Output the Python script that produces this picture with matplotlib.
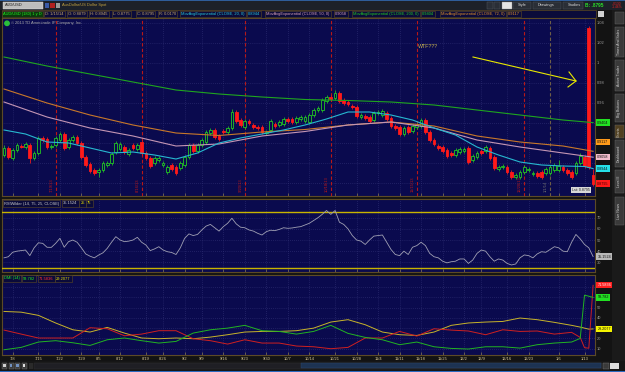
import numpy as np
import matplotlib
matplotlib.use("Agg")
import matplotlib.pyplot as plt
from matplotlib.patches import Rectangle
from matplotlib.transforms import offset_copy

plt.rcParams['font.family'] = ['Liberation Sans', 'DejaVu Sans']

# ---------------- data ----------------
opens = [0.908,0.915,0.905,0.913,0.917,0.916,0.918,0.905,0.910,0.925,
         0.924,0.916,0.918,0.923,0.929,0.916,0.923,0.926,0.920,0.906,
         0.899,0.893,0.891,0.893,0.898,0.900,0.911,0.914,0.916,0.909,
         0.918,0.914,0.921,0.910,0.905,0.900,0.903,0.898,0.891,0.898,
         0.896,0.895,0.898,0.906,0.918,0.912,0.918,0.921,0.930,0.933,
         0.927,0.932,0.931,0.935,0.951,0.943,0.936,0.942,0.938,0.936,
         0.936,0.930,0.933,0.939,0.938,0.939,0.944,0.944,0.941,0.944,
         0.942,0.941,0.948,0.953,0.953,0.962,0.966,0.965,0.970,0.963,
         0.961,0.957,0.956,0.946,0.947,0.946,0.943,0.950,0.948,0.950,
         0.945,0.937,0.936,0.929,0.936,0.932,0.936,0.937,0.943,0.931,
         0.923,0.917,0.916,0.913,0.910,0.908,0.911,0.912,0.915,0.903,
         0.906,0.912,0.912,0.915,0.906,0.894,0.896,0.896,0.891,0.886,
         0.886,0.891,0.893,0.889,0.890,0.891,0.890,0.890,0.893,0.893,
         0.896,0.893,0.891,0.890,0.900,0.906,1.035,0.888]
closes = [0.915,0.906,0.913,0.918,0.916,0.919,0.905,0.910,0.925,0.923,
          0.916,0.917,0.925,0.929,0.915,0.923,0.926,0.920,0.906,0.898,
          0.892,0.890,0.893,0.900,0.900,0.909,0.920,0.919,0.911,0.913,
          0.915,0.918,0.910,0.905,0.897,0.905,0.905,0.900,0.896,0.894,
          0.890,0.900,0.906,0.918,0.912,0.918,0.923,0.931,0.933,0.926,
          0.924,0.931,0.935,0.951,0.942,0.938,0.942,0.940,0.936,0.935,
          0.931,0.931,0.942,0.937,0.941,0.944,0.942,0.941,0.945,0.946,
          0.946,0.948,0.953,0.955,0.963,0.966,0.964,0.970,0.962,0.960,
          0.959,0.956,0.947,0.948,0.945,0.942,0.950,0.951,0.952,0.944,
          0.937,0.935,0.929,0.935,0.931,0.937,0.938,0.943,0.931,0.923,
          0.919,0.915,0.912,0.907,0.908,0.913,0.914,0.914,0.901,0.907,
          0.910,0.910,0.916,0.905,0.895,0.896,0.897,0.891,0.886,0.888,
          0.891,0.896,0.894,0.890,0.887,0.886,0.894,0.896,0.898,0.897,
          0.893,0.890,0.886,0.900,0.907,0.897,0.896,0.8795]
highs = [0.918,0.917,0.915,0.920,0.919,0.921,0.920,0.912,0.927,0.927,
         0.926,0.919,0.927,0.931,0.931,0.925,0.928,0.928,0.922,0.908,
         0.901,0.895,0.895,0.902,0.902,0.911,0.922,0.921,0.918,0.915,
         0.920,0.920,0.923,0.912,0.907,0.907,0.907,0.902,0.898,0.900,
         0.898,0.902,0.908,0.920,0.920,0.920,0.925,0.933,0.935,0.935,
         0.929,0.934,0.937,0.954,0.953,0.945,0.944,0.944,0.940,0.938,
         0.938,0.933,0.944,0.941,0.943,0.946,0.946,0.946,0.947,0.948,
         0.948,0.950,0.955,0.957,0.965,0.968,0.968,0.973,0.972,0.965,
         0.963,0.959,0.958,0.950,0.949,0.948,0.952,0.953,0.954,0.952,
         0.947,0.939,0.938,0.937,0.938,0.939,0.940,0.945,0.945,0.933,
         0.925,0.919,0.918,0.915,0.912,0.915,0.916,0.916,0.917,0.909,
         0.912,0.914,0.918,0.917,0.908,0.898,0.899,0.898,0.893,0.890,
         0.893,0.898,0.896,0.892,0.892,0.893,0.896,0.898,0.900,0.903,
         0.898,0.895,0.893,0.902,0.910,0.908,1.037,0.8945]
lows = [0.906,0.904,0.903,0.911,0.915,0.914,0.900,0.903,0.908,0.921,
        0.914,0.914,0.916,0.921,0.913,0.914,0.921,0.918,0.904,0.896,
        0.890,0.888,0.886,0.891,0.896,0.898,0.909,0.912,0.909,0.907,
        0.913,0.912,0.908,0.903,0.895,0.898,0.901,0.896,0.889,0.892,
        0.888,0.893,0.896,0.904,0.910,0.910,0.916,0.919,0.928,0.924,
        0.922,0.929,0.929,0.933,0.940,0.936,0.934,0.938,0.934,0.933,
        0.929,0.928,0.931,0.935,0.936,0.937,0.940,0.939,0.939,0.942,
        0.940,0.939,0.946,0.951,0.951,0.960,0.962,0.963,0.960,0.958,
        0.957,0.954,0.945,0.944,0.943,0.940,0.941,0.948,0.946,0.942,
        0.935,0.933,0.927,0.927,0.929,0.930,0.934,0.935,0.929,0.921,
        0.917,0.913,0.910,0.905,0.906,0.906,0.909,0.910,0.899,0.901,
        0.904,0.908,0.910,0.903,0.893,0.892,0.894,0.889,0.884,0.884,
        0.884,0.889,0.891,0.887,0.885,0.884,0.888,0.888,0.891,0.891,
        0.891,0.888,0.884,0.888,0.898,0.895,0.894,0.8775]

ma_idx_coarse = [0, 10, 20, 30, 40, 50, 60, 70, 80, 90, 100, 110, 120, 130, 137]
ema200 = [1.006,0.997,0.989,0.981,0.973,0.969,0.966,0.9635,0.9625,0.961,0.958,0.953,0.948,0.943,0.9404]
ema72 = [0.974,0.960,0.948,0.938,0.930,0.9275,0.931,0.9335,0.938,0.941,0.937,0.927,0.921,0.917,0.9117]
ema50 = [0.961,0.946,0.935,0.927,0.917,0.919,0.927,0.9315,0.938,0.941,0.935,0.923,0.916,0.910,0.9058]
ma_idx_fine = [0,5,10,15,20,25,30,35,40,45,50,55,60,65,70,75,80,85,90,95,100,105,110,115,120,125,130,135,137]
ema20 = [0.933,0.929,0.921,0.920,0.915,0.910,0.911,0.908,0.904,0.910,0.920,0.925,0.929,0.933,0.938,
         0.944,0.951,0.951,0.948,0.943,0.935,0.928,0.916,0.908,0.901,0.898,0.897,0.8965,0.8944]

rsi = [34,35,39,40,40.5,41,36,43,47.5,47,
       43.5,43.4,47,51.5,43.5,48.5,50,48,43,37.5,
       35.5,34,36.5,38.5,42.5,48,53,50,48.5,49,
       50,52.4,48,45.5,40.5,42,44,41,39.5,38.8,
       37,43,51.5,55.5,54,55,59,62.5,64,61,
       58,62,65,69.5,64.5,61.5,61,59,58,56,
       54.5,57.5,58.8,58.4,59.5,61,60.5,60.8,61.5,62,
       63.5,65,67.5,70,73,76.5,73,76.5,66,64,
       60,54,50,49,46,50,53.5,54,54.5,48,
       41.5,37,36,40,37,43.5,45,48,45,38,
       35,34,31,29.5,30.5,31,33,33,29,32,
       38,41,40,35,31,33,32,29,27.6,28.5,
       34,36.6,36,34,37.5,39.5,39,41.5,44,43,
       40,39.5,48,55,51,46,43,35.1524]

dmi_idx = [0,4,8,12,16,20,24,28,32,36,40,44,48,52,56,60,64,68,72,76,80,84,88,92,96,100,
           104,108,112,116,120,124,128,132,134,135,136,137]
di_plus = [9.0,11.3,16.5,17.8,15.8,13.2,18.7,20.4,17.8,15.5,17.1,25.2,28.4,30.0,32.7,27.5,26.8,
           24.2,26.8,32.7,24.9,21.0,18.7,13.9,16.5,11.9,10.3,9.7,11.9,11.9,10.6,13.9,15.5,16.5,
           20.0,62.0,61.0,59.782]
di_minus = [28.1,24.2,20.4,20.4,20.4,30.4,29.4,22.6,24.2,27.5,27.5,19.7,17.8,14.5,18.7,15.5,15.5,
            12.6,11.9,10.0,11.3,20.4,20.4,26.8,22.3,29.4,28.1,27.2,23.6,28.4,26.8,27.2,24.2,25.9,
            21.0,11.0,10.5,71.5836]
adx = [46.2,45.5,42.4,35.0,28.4,26.2,30.7,25.2,20.4,19.7,20.4,19.7,21.3,23.6,26.2,26.8,26.8,
       27.5,30.0,35.9,38.2,33.3,26.2,23.6,22.9,26.2,32.7,35.0,35.9,36.5,39.8,38.2,35.6,32.7,
       31.0,30.0,29.0,29.2077]

expiry_idx = [12, 32, 56, 76, 96, 121]
expiry_labels = ['7/19/13', '8/16/13', '9/20/13', '10/18/13', '11/15/13', '12/20/13']
year_idx = 127
year_label = '1/1/14'

xtick_idx = [2,8,13,18,22,27,33,37,42,46,51,56,61,66,71,77,82,87,92,97,102,107,111,117,122,129,135]
xtick_labels = ['7/8','7/15','7/22','7/29','8/5','8/12','8/19','8/26','9/2','9/9','9/16','9/23',
                '9/30','10/7','10/14','10/21','10/28','11/4','11/11','11/18','11/25','12/2','12/9',
                '12/16','12/23','1/6','1/13']
price_ticks = [0.88, 0.90, 0.92, 0.94, 0.96, 0.98, 1.00, 1.02, 1.04]
# labels hidden under the value bubbles are left blank
price_tick_labels = ['', '', '', '', '0.96', '0.98', '1', '1.02', '1.04']
rsi_ticks = [30, 40, 50, 60, 70]
rsi_tick_labels = ['30', '40', '50', '60', '70']
dmi_ticks = [10, 20, 30, 40, 50, 60, 70]
dmi_tick_labels = ['10', '20', '', '40', '50', '', '']

# ---------------- styling ----------------
W, H = 625, 372
NAVY = '#0a0a4e'
BORDER = '#5c4a26'
GRID = '#34347a'
UP = '#22c822'
DN = '#ff1a1a'
AXTXT = '#9c9c9c'
FS = 2.9

fig = plt.figure(figsize=(6.25, 3.72), dpi=100)
fig.patch.set_facecolor('#131313')


def px_axes(x0, y0, x1, y1, z=1):
    return fig.add_axes([x0 / W, 1 - y1 / H, (x1 - x0) / W, (y1 - y0) / H], zorder=z)


bg = px_axes(0, 0, W, H, z=0)
bg.set_xlim(0, W); bg.set_ylim(H, 0); bg.set_axis_off()
ov = px_axes(0, 0, W, H, z=10)
ov.set_xlim(0, W); ov.set_ylim(H, 0); ov.set_axis_off()


def rect(ax, x0, y0, x1, y1, fc, ec='none', lw=0.5, z=1):
    ax.add_patch(Rectangle((x0, y0), x1 - x0, y1 - y0, fc=fc, ec=ec, lw=lw, zorder=z))


# top toolbar
rect(bg, 0, 0, W, 10, '#1d2129')
rect(bg, 0, 0, W, 0.8, '#2f5d9a')
rect(ov, 3, 2, 43, 8.6, '#bdbdbd', ec='#e0e0e0', lw=0.3)
ov.text(5, 5.4, 'AUD/USD', fontsize=FS, color='#202020', va='center', ha='left')
rect(ov, 45, 2.5, 49, 8, '#3a5aa8')
rect(ov, 50, 2.5, 55, 8, '#b02020')
rect(ov, 56, 2.5, 60, 8, '#9a9a9a')
ov.text(62, 5.4, 'AusDollar/US Dollar Spot', fontsize=FS, color='#c0a040', va='center')
rect(ov, 487, 2.2, 493, 8.6, '#2a2e36', ec='#555a62', lw=0.3)
rect(ov, 494, 2.2, 500, 8.6, '#2a2e36', ec='#555a62', lw=0.3)
rect(ov, 502, 2.2, 512, 8.6, '#e4e4e4', ec='#999999', lw=0.3)
for x0, x1, lab in [(513, 531, 'Style'), (533, 561, 'Drawings'), (563, 583, 'Studies')]:
    rect(ov, x0, 2.2, x1, 8.6, '#2a2e36', ec='#555a62', lw=0.3)
    ov.text(x0 + 5, 5.4, lab, fontsize=FS, color='#d8d8d8', va='center')
ov.text(585, 5.4, 'B: .8795', fontsize=3.4, color='#2adf2a', va='center', fontweight='bold')
ov.text(611.5, 3.6, '-.0130', fontsize=2.4, color='#e02020', va='center')
ov.text(611.5, 7.4, '-1.46%', fontsize=2.4, color='#e02020', va='center')

# header strip
rect(bg, 2, 10, 596, 18, '#0b0b3a', ec=BORDER, lw=0.5)
hdr = [(3, 'AUD/USD (180) 1 y D', '#22ee22', '#0b3a0b'),
       (45, 'D: 1/15/14', '#c8a868', None), (68, 'O: 0.8879', '#c8a868', None),
       (90, 'H: 0.8945', '#c8a868', None), (113, 'L: 0.8775', '#c8a868', None),
       (137, 'C: 0.8795', '#c8a868', None), (159, 'R: 0.0170', '#c8a868', None),
       (181, 'MovAvgExponential (CLOSE, 20, 0)', '#27c8d8', None), (248, '0.8944', '#27c8d8', None),
       (266, 'MovAvgExponential (CLOSE, 50, 0)', '#d8a0b8', None), (335, '0.9058', '#d8a0b8', None),
       (353, 'MovAvgExponential (CLOSE, 200, 0)', '#22cc22', None), (422, '0.9404', '#22cc22', None),
       (441, 'MovAvgExponential (CLOSE, 72, 0)', '#e0902a', None), (508, '0.9117', '#e0902a', None)]
for x, t, c, fc in hdr:
    ov.text(x, 14.2, t, fontsize=FS, color=c, va='center', ha='left',
            bbox=dict(boxstyle='square,pad=0.3', fc=fc if fc else 'none', ec=BORDER, lw=0.4))
rect(ov, 598, 11, 604, 17, '#d0d0d0')

# right sidebar
rect(bg, 612, 10, W, 370, '#1a1a1a')
tabs = [(27, 57, 'Times And Sales'), (60, 91, 'Active Trader'), (94, 122, 'Big Buttons'),
        (125, 138, 'Charts'), (140, 167, 'Dashboard'), (170, 193, 'Level II'), (197, 225, 'Live News')]
for y0, y1, t in tabs:
    rect(ov, 614.5, y0, 623.5, y1, '#3a3a3a' if t != 'Charts' else '#504020', ec='#6a6a6a', lw=0.3)
    ov.text(619, (y0 + y1) / 2, t, fontsize=2.5, color='#d0d0d0', rotation=90, ha='center', va='center')
rect(ov, 614.5, 12, 623.5, 24, '#3a3a3a', ec='#6a6a6a', lw=0.3)

# bottom toolbar
rect(bg, 0, 361, W, 371, '#161616')
for i, c in enumerate(['#cfcfcf', '#6f8fbf', '#6f8fbf', '#dcdcdc']):
    rect(ov, 2 + i * 6.5, 362.5, 7 + i * 6.5, 368.5, '#3a3a3a', ec='#777777', lw=0.3)
    rect(ov, 3.3 + i * 6.5, 363.8, 5.7 + i * 6.5, 367.2, c)
rect(ov, 29, 362.5, 33, 368.5, '#2a2a2a')
rect(ov, 34, 362.5, 602, 368.5, '#1f1f24', ec='#333333', lw=0.3)
rect(ov, 301, 362.8, 601, 368.2, '#1d3352', ec='#2d4a70', lw=0.3)
rect(ov, 603, 362.5, 609, 368.5, '#3a3a3a', ec='#777', lw=0.3)
rect(ov, 610, 362.5, 619, 368.5, '#dcdcdc')
rect(bg, 0, 370.5, W, H, '#2c6ac0')

# ---------------- panels ----------------
XL = (-0.47, 137.44)


def style_panel(ax, ticks, ticklabels):
    ax.set_facecolor(NAVY)
    for s in ax.spines.values():
        s.set_color(BORDER); s.set_linewidth(0.8)
    ax.set_xlim(*XL)
    ax.yaxis.tick_right()
    ax.set_yticks(ticks)
    ax.set_yticklabels(ticklabels)
    ax.tick_params(axis='y', length=0, pad=1.5, labelsize=FS, labelcolor=AXTXT)
    ax.set_xticks(xtick_idx)
    ax.tick_params(axis='x', direction='in', length=2, color='#8a7a50', width=0.5, labelbottom=False)
    ax.grid(True, color=GRID, linestyle=(0, (1, 2)), linewidth=0.5)
    ax.set_axisbelow(True)


# price panel
axp = px_axes(2, 18, 595, 196, z=2)
style_panel(axp, price_ticks, price_tick_labels)
axp.set_ylim(0.867, 1.045)

idx = np.arange(len(closes))
o = np.array(opens); c = np.array(closes); hi = np.array(highs); lo = np.array(lows)
up = c >= o
cols = np.where(up, UP, DN)
axp.vlines(idx, lo, hi, colors=cols, lw=0.55, zorder=3)
axp.bar(idx[up], (c - o)[up], bottom=o[up], width=0.64, facecolor=NAVY, edgecolor=UP, lw=0.6, zorder=4)
axp.bar(idx[~up], (c - o)[~up], bottom=o[~up], width=0.64, facecolor=DN, edgecolor=DN, lw=0.6, zorder=4)

axp.plot(ma_idx_coarse, ema200, color='#1fa61f', lw=0.8, zorder=5)
axp.plot(ma_idx_coarse, ema72, color='#c8782a', lw=0.8, zorder=5)
axp.plot(ma_idx_coarse, ema50, color='#c496b4', lw=0.8, zorder=5)
axp.plot(ma_idx_fine, ema20, color='#27b8d0', lw=0.8, zorder=5)

for i, lab in zip(expiry_idx, expiry_labels):
    axp.axvline(i, color='#b81818', lw=0.8, ls=(0, (3, 2)), zorder=2)
    axp.text(i - 0.5, 0.8715, lab, rotation=90, fontsize=3.0, color='#b81818', ha='right', va='bottom', zorder=2)
axp.axvline(year_idx, color='#6e5e46', lw=0.8, ls=(0, (3, 2)), zorder=2)
axp.text(year_idx - 0.5, 0.8715, year_label, rotation=90, fontsize=3.0, color='#707070', ha='right', va='bottom', zorder=2)


def vbox(ax, y, text, fc, tc='#101010', dy=0):
    tr = offset_copy(ax.get_yaxis_transform(), fig=fig, x=0, y=dy, units='dots')
    ax.text(1.004, y, text, transform=tr, fontsize=2.7, color=tc, ha='left', va='center', clip_on=False,
            zorder=30, bbox=dict(boxstyle='square,pad=0.3', fc=fc, ec='none'))


vbox(axp, ema200[-1], '0.9404', '#22e022')
vbox(axp, ema72[-1], '0.9117', '#ff9a1a', dy=9)
vbox(axp, ema50[-1], '0.9058', '#f2bccc')
vbox(axp, ema20[-1], '0.8944', '#25e0e8')
vbox(axp, closes[-1], '0.8795', '#ff1a1a', tc='#400000')

# overlay texts inside price panel
ov.add_patch(plt.Circle((7, 23.3), 2.2, color='#2abf3a', zorder=5))
ov.text(11, 23.3, '\u00a9 2013 TD Ameritrade IP Company, Inc.', fontsize=FS, color='#a8a8a8', va='center')
ov.text(418, 46, 'WTF???', fontsize=3.8, color='#c8b450', va='center')
ov.plot([473, 576], [57, 81], color='#e8e800', lw=0.8)
ov.plot([569, 576, 568], [72, 81, 87], color='#e8e800', lw=0.8)
ov.text(572, 190, 'Lst: 0.8795', fontsize=2.6, color='#202020', va='center',
        bbox=dict(boxstyle='square,pad=0.3', fc='#d8d8d8', ec='none'))

# RSI panel
axr = px_axes(2, 199, 595, 272, z=2)
style_panel(axr, rsi_ticks, rsi_tick_labels)
axr.set_ylim(21.3, 86.8)
axr.axhline(75, color='#c8b400', lw=1.0, zorder=3)
axr.axhline(25, color='#c8b400', lw=1.0, zorder=3)
axr.plot(np.arange(len(rsi)), rsi, color='#a0a0b4', lw=0.6, zorder=4)
ob_mask = np.ma.masked_less(np.array(rsi, dtype=float), 74.0)
axr.plot(np.arange(len(rsi)), ob_mask, color='#ff2020', lw=0.6, zorder=5)
vbox(axr, rsi[-1], '35.1524', '#b8b8b8')
for x, t, col in [(4, 'RSIWilder (14, 75, 25, CLOSE)', '#c8c8c8'), (63, '35.1524', '#c8c8c8'),
                  (80.5, '25', '#e8e000'), (87, '75', '#e8e000')]:
    ov.text(x, 203.5, t, fontsize=FS, color=col, va='center',
            bbox=dict(boxstyle='square,pad=0.3', fc='#0a0a3a', ec=BORDER, lw=0.4))

# DMI panel
axd = px_axes(2, 275, 595, 355, z=2)
style_panel(axd, dmi_ticks, dmi_tick_labels)
axd.set_ylim(3.9, 81.6)
axd.plot(dmi_idx, adx, color='#c8b42a', lw=0.7, zorder=3)
axd.plot(dmi_idx, di_minus, color='#d02020', lw=0.7, zorder=4)
axd.plot(dmi_idx, di_plus, color='#22b422', lw=0.7, zorder=5)
axd.tick_params(axis='x', labelbottom=True, labelsize=FS, labelcolor='#d8c894', pad=1.5)
axd.set_xticklabels(xtick_labels)
vbox(axd, di_minus[-1], '71.5836', '#ff2020', tc='#ffffff')
vbox(axd, di_plus[-1], '59.782', '#22e022')
vbox(axd, adx[-1], '29.2077', '#f4f400')
for x, t, col in [(4, 'DMI (14)', '#22ee22'), (23, '59.782', '#22ee22'), (39, '71.5836', '#ff3030'),
                  (56, '29.2077', '#e8e000')]:
    ov.text(x, 278.5, t, fontsize=FS, color=col, va='center',
            bbox=dict(boxstyle='square,pad=0.3', fc='#0a0a3a', ec=BORDER, lw=0.4))

fig.savefig('out.png', dpi=100, facecolor=fig.get_facecolor())
